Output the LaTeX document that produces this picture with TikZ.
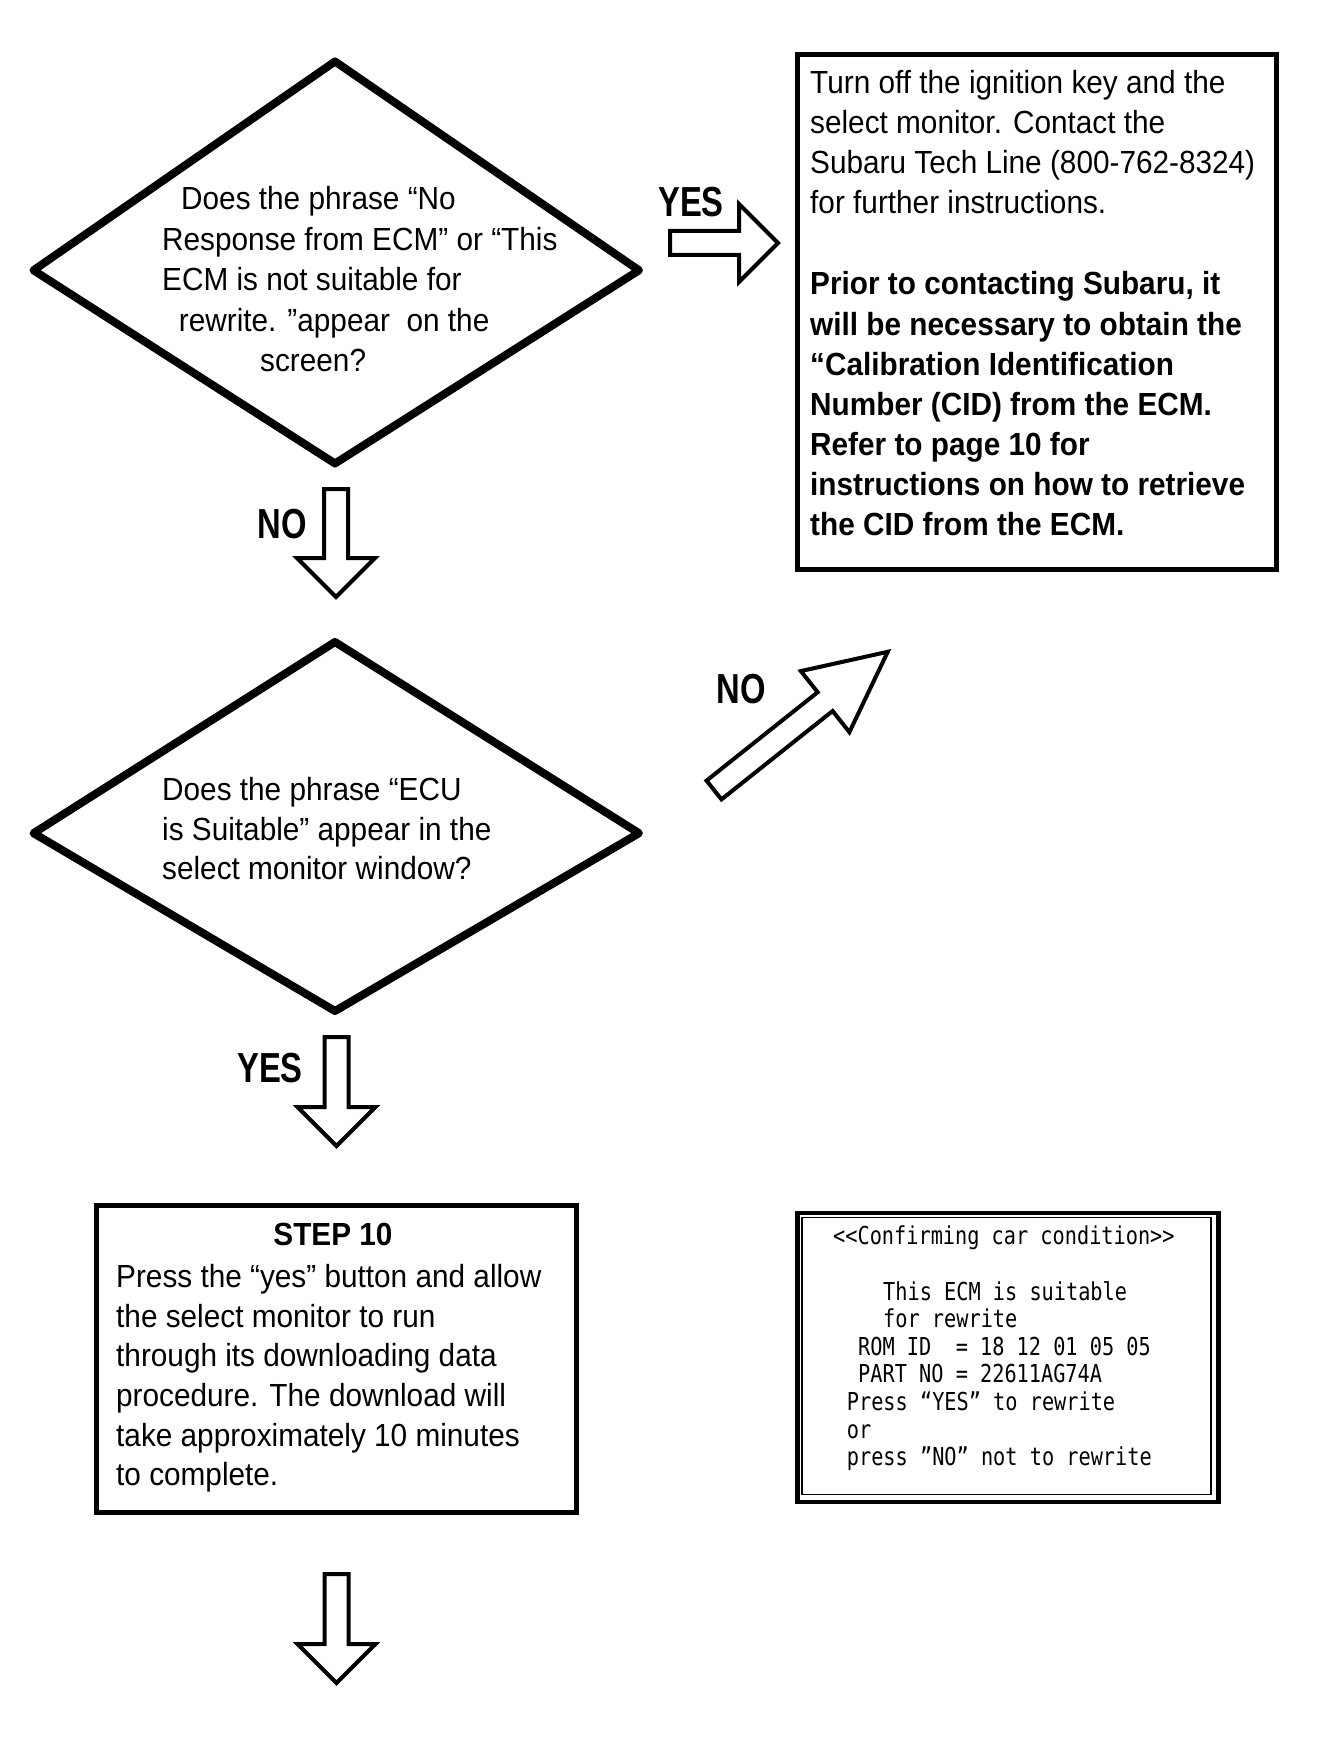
\documentclass[tikz,border=0pt]{standalone}
\usepackage{fontspec}
\setmainfont{Liberation Sans}[FakeStretch=0.93]
\newfontfamily\lblfont{Liberation Sans}[FakeStretch=0.78]
\newfontfamily\lcdfont{DejaVu Sans Mono}[FakeStretch=0.82]
\tikzset{
  txt/.style={anchor=base west, inner sep=0pt, font=\fontsize{32}{40}\selectfont},
  btxt/.style={anchor=base west, inner sep=0pt, font=\fontsize{32}{40}\selectfont\bfseries},
  lbl/.style={anchor=base, inner sep=0pt, font=\lblfont\fontsize{42}{48}\selectfont\bfseries},
  lcd/.style={anchor=base west, inner sep=0pt, font=\lcdfont\fontsize{24.7}{28}\selectfont},
  decisionline/.style={draw, line width=8pt, line join=round},
  framebox/.style={draw, line width=5pt, inner sep=0pt, anchor=north west},
  arrowline/.style={draw, line width=4pt, fill=white, line join=miter},
  pics/blockarrow/.style n args={3}{code={
    \draw[arrowline] (0,-12) -- (#1,-12) -- (#1,-#2) -- (#1+#3,0) -- (#1,#2) -- (#1,12) -- (0,12) -- cycle;
  }}
}
\begin{document}
\begin{tikzpicture}[x=1pt,y=-1pt]
\path[fill=white, use as bounding box] (0,0) rectangle (1328,1752);

% decision 1
\coordinate (q1t) at (335,61.5);
\coordinate (q1r) at (639,270.3);
\coordinate (q1b) at (335,463.5);
\coordinate (q1l) at (33.5,270.3);
\draw[decisionline] (q1t) -- (q1r) -- (q1b) -- (q1l) -- cycle;
\node[txt] (q1l1) at (181,210) {Does the phrase “No};
\node[txt] (q1l2) at (162,250.5) {Response from ECM” or “This};
\node[txt] (q1l3) at (162,290.7) {ECM is not suitable for};
\node[txt] (q1l4) at (178.7,331) {rewrite. ”appear~ on the};
\node[txt] (q1l5) at (260,371) {screen?};

% YES arrow to the right
\node[lbl] (yes1) at (691,217) {YES};
\pic (a4) at (670,243) {blockarrow={69}{39}{39}};

% info box
\node[framebox, minimum width=478.5pt, minimum height=514pt] (info) at (795,52.5) {};
\node[txt] (i1) at (810,94) {Turn off the ignition key and the};
\node[txt] (i2) at (810,134) {select monitor. Contact the};
\node[txt] (i3) at (810,174) {Subaru Tech Line (800-762-8324)};
\node[txt] (i4) at (810,214) {for further instructions.};
\node[btxt] (i5) at (810,295) {Prior to contacting Subaru, it};
\node[btxt] (i6) at (810,335) {will be necessary to obtain the};
\node[btxt] (i7) at (810,375) {“Calibration Identification};
\node[btxt] (i8) at (810,415) {Number (CID) from the ECM.};
\node[btxt] (i9) at (810,455) {Refer to page 10 for};
\node[btxt] (i10) at (810,495) {instructions on how to retrieve};
\node[btxt] (i11) at (810,535) {the CID from the ECM.};

% NO arrow down
\node[lbl] (no1) at (282,538) {NO};
\pic[rotate=-90] (a1) at (336,489) {blockarrow={69}{39}{39}};

% decision 2
\coordinate (q2t) at (335,642);
\coordinate (q2r) at (639,833.2);
\coordinate (q2b) at (335,1011);
\coordinate (q2l) at (33.5,833.2);
\draw[decisionline] (q2t) -- (q2r) -- (q2b) -- (q2l) -- cycle;
\node[txt] (q2l1) at (162,800) {Does the phrase “ECU};
\node[txt] (q2l2) at (162,840) {is Suitable” appear in the};
\node[txt] (q2l3) at (162,879.5) {select monitor window?};

% NO diagonal arrow
\node[lbl] (no2) at (741,703) {NO};
\pic[rotate=38.5] (a5) at (714,790) {blockarrow={142}{39}{80}};

% YES arrow down
\node[lbl] (yes2) at (270,1082) {YES};
\pic[rotate=-90] (a2) at (336.5,1037) {blockarrow={70}{39}{39}};

% step 10 box
\node[framebox, minimum width=480pt, minimum height=306.5pt] (step) at (93.8,1203) {};
\node[anchor=base, inner sep=0pt, font=\fontsize{32}{40}\selectfont\bfseries] (s0) at (333,1245.5) {STEP 10};
\node[txt] (s1) at (116,1287) {Press the “yes” button and allow};
\node[txt] (s2) at (116,1327) {the select monitor to run};
\node[txt] (s3) at (116,1366) {through its downloading data};
\node[txt] (s4) at (116,1406) {procedure. The download will};
\node[txt] (s5) at (116,1446) {take approximately 10 minutes};
\node[txt] (s6) at (116,1485) {to complete.};

% screen
\node[draw, line width=4.5pt, inner sep=0pt, anchor=north west, minimum width=421pt, minimum height=289pt] (scr) at (795.2,1210.7) {};
\node[draw, line width=1.6pt, inner sep=0pt, anchor=north west, minimum width=409pt, minimum height=277pt] (scrin) at (801.2,1216.7) {};
\node[lcd] (c1) at (833,1244) {<\kern0pt<Confirming car condition>\kern0pt>};
\node[lcd] (c2) at (883,1300) {This ECM is suitable};
\node[lcd] (c3) at (883,1327.6) {for rewrite};
\node[lcd] (c4) at (858,1355.2) {ROM ID\ \ = 18 12 01 05 05};
\node[lcd] (c5) at (858,1382.8) {PART NO = 22611AG74A};
\node[lcd] (c6) at (846.7,1410.4) {Press “YES” to rewrite};
\node[lcd] (c7) at (846.7,1438) {or};
\node[lcd] (c8) at (846.7,1465.6) {press ”NO” not to rewrite};

% final arrow down
\pic[rotate=-90] (a3) at (336.5,1574) {blockarrow={70}{39}{39}};
\end{tikzpicture}
\end{document}
